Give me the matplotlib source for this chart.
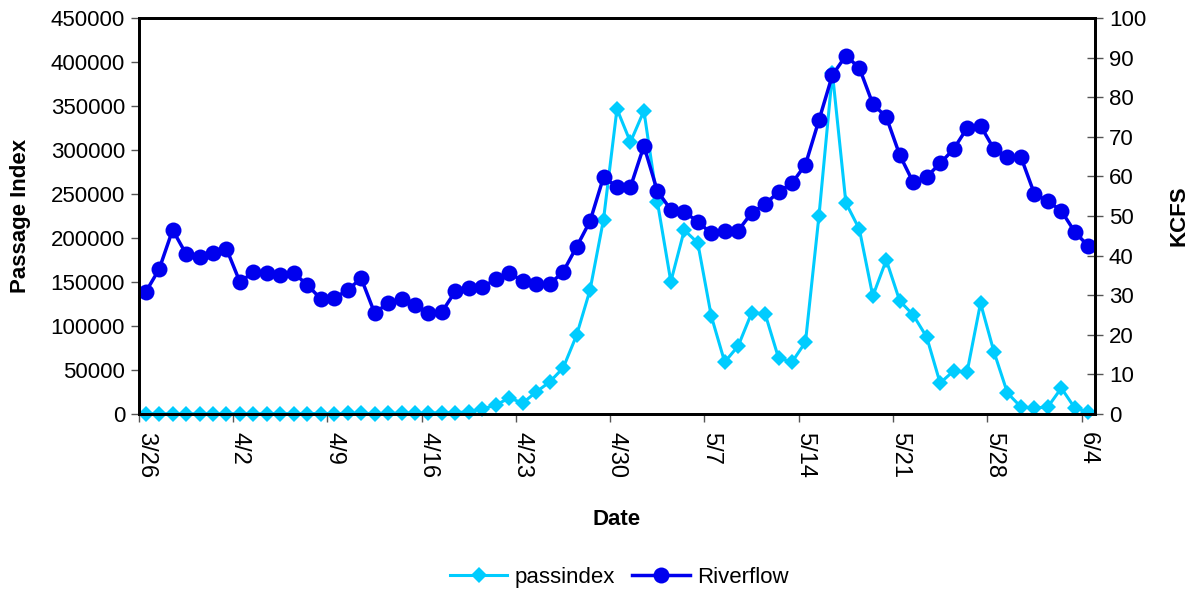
import numpy as np
import matplotlib
matplotlib.use("Agg")
import matplotlib.pyplot as plt

plt.rcParams['font.family'] = ['Liberation Sans', 'DejaVu Sans']

# daily values, 3/26 through 6/4
passindex = [120, 80, 150, 60, 90, 210, 180, 260, 140, 310,
             380, 290, 450, 520, 410, 600, 680, 560, 750, 900,
             1200, 1050, 1400, 1600, 2400, 5700, 10200, 18200, 12500, 25000,
             36400, 52300, 89500, 141000, 221000, 346600, 309000, 344500, 241000, 150500,
             209000, 194500, 111500, 59000, 77300, 114800, 114000, 63600, 59000, 81800,
             225000, 387500, 240000, 210000, 134000, 175000, 128500, 112500, 87500, 35200,
             48900, 47700, 126000, 70500, 23900, 8000, 6800, 8000, 29500, 6800,
             2300]
riverflow = [30.8, 36.6, 46.5, 40.4, 39.6, 40.7, 41.7, 33.3, 35.9, 35.6,
             35.2, 35.6, 32.6, 29.1, 29.3, 31.3, 34.3, 25.5, 28.0, 29.1,
             27.6, 25.5, 25.8, 31.0, 31.8, 32.0, 34.1, 35.6, 33.6, 32.8,
             32.8, 35.9, 42.2, 48.7, 59.8, 57.4, 57.3, 67.7, 56.3, 51.6,
             51.0, 48.6, 45.6, 46.2, 46.3, 50.8, 53.0, 56.1, 58.3, 63.0,
             74.2, 85.6, 90.5, 87.4, 78.3, 75.0, 65.4, 58.5, 59.9, 63.3,
             66.9, 72.2, 72.8, 66.9, 64.9, 64.9, 55.6, 53.8, 51.3, 46.0,
             42.4]
date_labels = ['3/26', '4/2', '4/9', '4/16', '4/23', '4/30',
               '5/7', '5/14', '5/21', '5/28', '6/4']

x = np.arange(len(passindex))
FS = 16

fig = plt.figure(figsize=(11.95, 5.91), dpi=100)
ax = fig.add_axes([0.1163, 0.2995, 0.8, 0.670])
ax2 = ax.twinx()

cyan = '#00CCFF'
blue = '#0000EE'

l1, = ax.plot(x, passindex, '-', color=cyan, lw=2.2, marker='D',
              markersize=8.5, markeredgewidth=0, label='passindex', clip_on=False)
l2, = ax2.plot(x, riverflow, '-', color=blue, lw=2.5, marker='o',
               markersize=11.5, markeredgewidth=0, label='Riverflow', clip_on=False)

ax.set_xlim(-0.5, len(x) - 0.5)
ax.set_ylim(0, 450000)
ax2.set_ylim(0, 100)
ax.set_yticks(np.arange(0, 450001, 50000))
ax2.set_yticks(np.arange(0, 101, 10))

# labels sit on the categories, tick marks on the category boundaries
label_pos = np.arange(0, len(x), 7)
ax.set_xticks(label_pos)
ax.set_xticklabels(date_labels, rotation=-90, fontsize=17)
ax.set_xticks(label_pos - 0.5, minor=True)
ax.tick_params(axis='x', which='major', length=0, pad=13)
ax.tick_params(axis='x', which='minor', length=6, width=1, color='#555555', direction='out')
ax.tick_params(axis='y', labelsize=FS, length=6, width=1, color='#555555', direction='out', pad=4)
ax2.tick_params(axis='y', labelsize=FS, length=12, width=1, color='#555555', direction='inout', pad=4)

for a in (ax, ax2):
    for s in a.spines.values():
        s.set_linewidth(2)
        s.set_color('black')

ax.set_xlabel('Date', fontsize=FS, fontweight='bold', labelpad=22)
ax.set_ylabel('Passage Index', fontsize=FS, fontweight='bold', labelpad=14)
ax2.set_ylabel('KCFS', fontsize=FS, fontweight='bold', labelpad=16)

fig.legend(handles=[l1, l2], loc='center', bbox_to_anchor=(0.518, 0.023),
           ncol=2, frameon=False, fontsize=FS, handlelength=2.6,
           handletextpad=0.3, columnspacing=0.8)

fig.savefig('out.png', dpi=100)
